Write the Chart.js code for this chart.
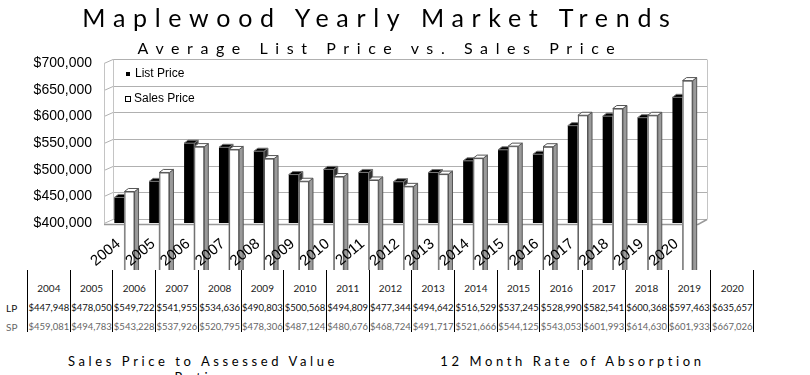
<!DOCTYPE html>
<html>
<head>
<meta charset="utf-8">
<script src="https://cdn.jsdelivr.net/npm/chart.js@4"></script>
<style>
  html, body { margin: 0; padding: 0; background: #fff; }
  #wrap { position: relative; width: 810px; height: 375px; overflow: hidden; font-family: "Lato", sans-serif; }
  #chart { position: absolute; left: 0; top: 0; }
  .title { position: absolute; left: 0; width: 760px; text-align: center; color: #000; white-space: nowrap; }
  #t1 { top: 2px; font-size: 25px; letter-spacing: 7.7px; }
  #t2 { top: 38px; font-size: 16px; letter-spacing: 7.6px; }
  .col { position: absolute; top: 270px; height: 62px; border-left: 1.5px solid #000; box-sizing: border-box; }
  .col.last { border-right: 1.5px solid #000; }
  .cell { position: absolute; left: -4px; right: -4px; text-align: center; white-space: nowrap; font-size: 9.5px; }
  .yr { top: 12px; font-size: 10px; color: #222; }
  .lp { top: 32px; color: #111; }
  .sp { top: 51px; color: #666; }
  .rowlab { position: absolute; left: 6px; font-size: 10px; }
  .foot { position: absolute; top: 353px; font-size: 13px; letter-spacing: 3.6px; text-align: center; color: #000; }
</style>
</head>
<body>
<div id="wrap">
  <canvas id="chart" width="810" height="270"></canvas>
  <div class="title" id="t1">Maplewood Yearly Market Trends</div>
  <div class="title" id="t2">Average List Price vs. Sales Price</div>
  <div id="table"></div>
  <div class="foot" style="left:48px;width:310px;">Sales Price to Assessed Value Ratios</div>
  <div class="foot" style="left:420px;width:305px;">12 Month Rate of Absorption</div>
</div>
<script>
  const years = ["2004", "2005", "2006", "2007", "2008", "2009", "2010", "2011", "2012",
    "2013", "2014", "2015", "2016", "2017", "2018", "2019", "2020"];
  const listPrice = [447948, 478050, 549722, 541955, 534636, 490803, 500568, 494809, 477344,
    494642, 516529, 537245, 528990, 582541, 600368, 597463, 635657];
  const salesPrice = [459081, 494783, 543228, 537926, 520795, 478306, 487124, 480676, 468724,
    491717, 521666, 544125, 543053, 601993, 614630, 601933, 667026];
  const seriesLabels = ["List Price", "Sales Price"];
  const rowLabels = ["LP", "SP"];

  const money = (v) => "$" + v.toLocaleString("en-US");

  // depth of the bars and of the walls
  const BAR_DX = 4, BAR_DY = -3;
  const WALL_FRONT = -3, WALL_BACK = 6, WALL_DY = -4;

  const walls = {
    id: "walls",
    beforeDatasetsDraw(chart) {
      const { ctx, chartArea: a, scales } = chart;
      const y = scales.y;
      const fl = a.left + WALL_FRONT, bl = a.left + WALL_BACK;
      const fr = a.right - 2, br = a.right + WALL_BACK + 1;
      ctx.save();
      ctx.lineWidth = 1;
      ctx.strokeStyle = "#b0b0b0";
      y.ticks.forEach((t) => {
        const py = Math.round(y.getPixelForValue(t.value)) + 0.5;
        ctx.beginPath();
        ctx.moveTo(fl, py);
        ctx.lineTo(bl, py + WALL_DY);
        ctx.lineTo(br, py + WALL_DY);
        ctx.stroke();
      });
      const top = Math.round(y.getPixelForValue(y.max)) + 0.5;
      const bot = Math.round(y.getPixelForValue(y.min)) + 0.5;
      ctx.strokeStyle = "#c4c4c4";
      ctx.beginPath();
      ctx.moveTo(fl + 0.5, top); ctx.lineTo(fl + 0.5, bot);
      ctx.moveTo(bl + 0.5, top + WALL_DY); ctx.lineTo(bl + 0.5, bot + WALL_DY);
      ctx.moveTo(br + 0.5, top + WALL_DY); ctx.lineTo(br + 0.5, bot + WALL_DY);
      ctx.stroke();
      // floor
      ctx.strokeStyle = "#999";
      ctx.lineWidth = 1.5;
      ctx.beginPath();
      ctx.moveTo(fl, bot + 1); ctx.lineTo(fr, bot + 1); ctx.lineTo(br, bot + WALL_DY);
      ctx.stroke();
      ctx.restore();
    },
    afterDatasetsDraw(chart) {
      const { ctx } = chart;
      const lp = chart.getDatasetMeta(0).data;
      const sp = chart.getDatasetMeta(1).data;
      const faces = (bar, topFill, sideFill, edge) => {
        const x0 = bar.x - bar.width / 2, x1 = bar.x + bar.width / 2;
        ctx.fillStyle = sideFill;
        ctx.strokeStyle = edge;
        ctx.lineWidth = 1;
        ctx.beginPath();
        ctx.moveTo(x1, bar.y); ctx.lineTo(x1 + BAR_DX, bar.y + BAR_DY);
        ctx.lineTo(x1 + BAR_DX, bar.base + BAR_DY); ctx.lineTo(x1, bar.base);
        ctx.closePath(); ctx.fill(); ctx.stroke();
        ctx.fillStyle = topFill;
        ctx.beginPath();
        ctx.moveTo(x0, bar.y); ctx.lineTo(x0 + BAR_DX, bar.y + BAR_DY);
        ctx.lineTo(x1 + BAR_DX, bar.y + BAR_DY); ctx.lineTo(x1, bar.y);
        ctx.closePath(); ctx.fill(); ctx.stroke();
      };
      ctx.save();
      lp.forEach((bar, i) => {
        faces(bar, "#000", "#333", "#777");
        const s = sp[i];
        const x0 = s.x - s.width / 2;
        ctx.fillStyle = "#fff";
        ctx.strokeStyle = "#555";
        ctx.fillRect(x0, s.y, s.width, s.base - s.y);
        ctx.strokeRect(x0 + 0.5, s.y + 0.5, s.width - 1, s.base - s.y - 1);
        faces(s, "#fff", "#9a9a9a", "#555");
      });
      ctx.restore();
    },
    afterDraw(chart) {
      const { ctx, chartArea: a, scales } = chart;
      ctx.save();
      // legend inside the plot
      ctx.font = "12px 'Liberation Sans', Arial, sans-serif";
      ctx.fillStyle = "#000";
      ctx.textBaseline = "middle";
      ctx.fillRect(a.left + 19, a.top + 9, 4, 4);
      ctx.fillText(seriesLabels[0], a.left + 28, a.top + 11);
      ctx.strokeStyle = "#000";
      ctx.lineWidth = 1;
      ctx.strokeRect(a.left + 18.5, a.top + 33.5, 5, 5);
      ctx.fillText(seriesLabels[1], a.left + 27, a.top + 36);
      // rotated year labels, set a little down-left of each category
      ctx.font = "15px 'Liberation Sans', Arial, sans-serif";
      ctx.textAlign = "right";
      years.forEach((yr, i) => {
        const x = scales.x.getPixelForValue(i);
        ctx.save();
        ctx.translate(x - 6, a.bottom + 19);
        ctx.rotate(-40 * Math.PI / 180);
        ctx.fillText(yr, 0, 0);
        ctx.restore();
      });
      ctx.restore();
    },
  };

  new Chart(document.getElementById("chart"), {
    type: "bar",
    data: {
      labels: years,
      datasets: [
        { label: seriesLabels[0], data: listPrice, backgroundColor: "#000", borderWidth: 0 },
        { label: seriesLabels[1], data: salesPrice, backgroundColor: "#fff", borderColor: "#555", borderWidth: 1 },
      ],
    },
    options: {
      responsive: false,
      animation: false,
      layout: { padding: { left: 0, top: 63, right: 110, bottom: 0 } },
      datasets: { bar: { categoryPercentage: 0.58, barPercentage: 1.0 } },
      plugins: { legend: { display: false }, title: { display: false }, tooltip: { enabled: false } },
      scales: {
        x: {
          grid: { display: false },
          border: { display: false },
          ticks: { display: false },
          afterFit: (s) => { s.height = 47; },
        },
        y: {
          min: 400000, max: 700000,
          grid: { display: false, drawTicks: false },
          border: { display: false },
          ticks: {
            stepSize: 50000, padding: 15, color: "#000",
            font: { family: "'Liberation Sans', Arial, sans-serif", size: 14 },
            callback: (v) => money(v),
          },
          afterFit: (s) => { s.width = 107; },
        },
      },
    },
    plugins: [walls],
  });

  // data table under the chart
  const table = document.getElementById("table");
  const colW = 42.7;
  rowLabels.forEach((r, k) => {
    const d = document.createElement("div");
    d.className = "rowlab";
    d.style.top = (270 + (k ? 51 : 32)) + "px";
    d.style.color = k ? "#666" : "#111";
    d.textContent = r;
    table.appendChild(d);
  });
  years.forEach((yr, i) => {
    const col = document.createElement("div");
    col.className = "col" + (i === years.length - 1 ? " last" : "");
    col.style.left = (27 + i * colW) + "px";
    col.style.width = (colW + (i === years.length - 1 ? 1.5 : 0)) + "px";
    col.innerHTML =
      `<div class="cell yr">${yr}</div>` +
      `<div class="cell lp">${money(listPrice[i])}</div>` +
      `<div class="cell sp">${money(salesPrice[i])}</div>`;
    table.appendChild(col);
  });
</script>
</body>
</html>
